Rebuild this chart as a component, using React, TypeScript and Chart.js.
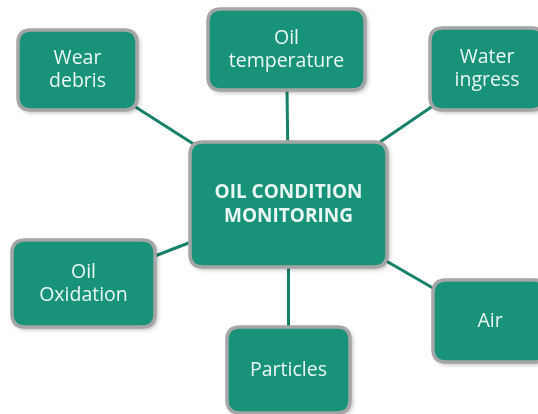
import React, { useEffect, useRef } from "react";
import { Chart, registerables } from "chart.js";

Chart.register(...registerables);

// Diagram data
const centerLabel = ["OIL CONDITION", "MONITORING"];
const centerPos = { x: 288.5, y: 204.5 };
const centerSize = { w: 197, h: 125 };

const nodeLabels: string[][] = [
  ["Wear", "debris"],
  ["Oil", "temperature"],
  ["Water", "ingress"],
  ["Oil", "Oxidation"],
  ["Particles"],
  ["Air"],
];
const nodeX = [77.5, 286.5, 487, 83.5, 288.5, 490];
const nodeY = [70, 49.5, 69, 283.5, 370, 321];
const nodeW = [119, 157, 114, 143, 123, 114];
const nodeH = [80, 81, 82, 87, 86, 82];

const FILL = "#18937a";
const BORDER = "#a3a6a5";
const LINE = "#17806a";
const TEXT = "#eaf6f1";
const FONT = "'Open Sans', sans-serif";

function roundRect(ctx: CanvasRenderingContext2D, x: number, y: number, w: number, h: number, r: number) {
  ctx.beginPath();
  ctx.moveTo(x + r, y);
  ctx.lineTo(x + w - r, y);
  ctx.quadraticCurveTo(x + w, y, x + w, y + r);
  ctx.lineTo(x + w, y + h - r);
  ctx.quadraticCurveTo(x + w, y + h, x + w - r, y + h);
  ctx.lineTo(x + r, y + h);
  ctx.quadraticCurveTo(x, y + h, x, y + h - r);
  ctx.lineTo(x, y + r);
  ctx.quadraticCurveTo(x, y, x + r, y);
  ctx.closePath();
}

const boxesPlugin = {
  id: "boxes",
  afterDatasetsDraw(chart: any) {
    const ctx: CanvasRenderingContext2D = chart.ctx;
    const xs = chart.scales.x;
    const ys = chart.scales.y;
    const drawBox = (cx: number, cy: number, w: number, h: number, lines: string[], bold: boolean, size: number, lh: number) => {
      const px = xs.getPixelForValue(cx);
      const py = ys.getPixelForValue(cy);
      const pw = Math.abs(xs.getPixelForValue(cx + w) - px);
      const ph = Math.abs(ys.getPixelForValue(cy + h) - py);
      const x0 = px - pw / 2;
      const y0 = py - ph / 2;
      ctx.save();
      ctx.shadowColor = "rgba(0,0,0,0.35)";
      ctx.shadowBlur = 5;
      ctx.shadowOffsetX = 2;
      ctx.shadowOffsetY = 2;
      roundRect(ctx, x0, y0, pw, ph, 13);
      ctx.fillStyle = FILL;
      ctx.fill();
      ctx.shadowColor = "transparent";
      ctx.lineWidth = 3.5;
      ctx.strokeStyle = BORDER;
      ctx.stroke();
      ctx.fillStyle = TEXT;
      ctx.font = `${bold ? "bold " : ""}${size}px ${FONT}`;
      ctx.textAlign = "center";
      ctx.textBaseline = "middle";
      const startY = py - ((lines.length - 1) * lh) / 2;
      lines.forEach((t, i) => ctx.fillText(t, px, startY + i * lh));
      ctx.restore();
    };
    for (let i = 0; i < nodeLabels.length; i++) {
      drawBox(nodeX[i], nodeY[i], nodeW[i], nodeH[i], nodeLabels[i], false, 19.5, 23);
    }
    drawBox(centerPos.x, centerPos.y, centerSize.w, centerSize.h, centerLabel, true, 19, 24);
  },
};

export default function App() {
  const ref = useRef<HTMLCanvasElement>(null);
  useEffect(() => {
    if (!ref.current) return;
    const datasets = nodeLabels.map((_, i) => ({
      type: "line" as const,
      data: [
        { x: nodeX[i], y: nodeY[i] },
        { x: centerPos.x, y: centerPos.y },
      ],
      borderColor: LINE,
      borderWidth: 3,
      pointRadius: 0,
      showLine: true,
      fill: false,
    }));
    const chart = new Chart(ref.current, {
      type: "scatter",
      data: { datasets },
      options: {
        animation: false,
        responsive: false,
        maintainAspectRatio: false,
        layout: { padding: 0 },
        plugins: { legend: { display: false }, tooltip: { enabled: false } },
        scales: {
          x: { type: "linear", min: 0, max: 538, display: false },
          y: { type: "linear", min: 0, max: 414, reverse: true, display: false },
        },
      },
      plugins: [boxesPlugin],
    });
    return () => chart.destroy();
  }, []);
  return (
    <div style={{ position: "absolute", left: 0, top: 0, width: 538, height: 414, background: "#fff" }}>
      <canvas ref={ref} width={538} height={414} style={{ display: "block" }} />
    </div>
  );
}
